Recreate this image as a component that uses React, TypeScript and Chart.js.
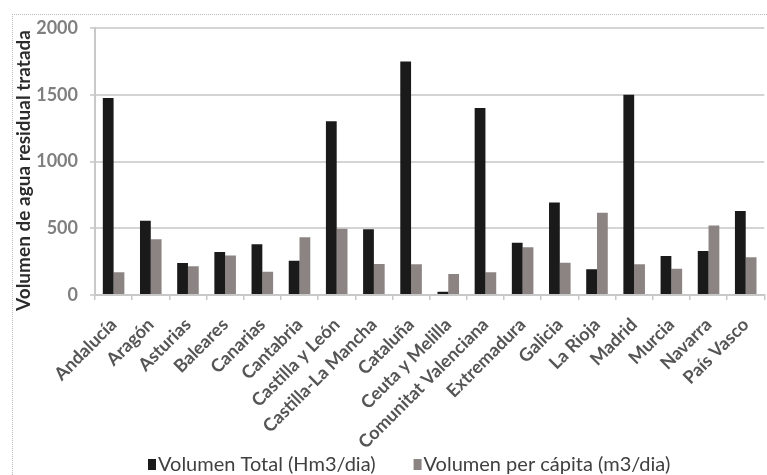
import React, { useEffect, useRef } from "react";
import { Chart, registerables } from "chart.js";

Chart.register(...registerables);

const categories = [
  "Andalucía",
  "Aragón",
  "Asturias",
  "Baleares",
  "Canarias",
  "Cantabria",
  "Castilla y León",
  "Castilla-La Mancha",
  "Cataluña",
  "Ceuta y Melilla",
  "Comunitat Valenciana",
  "Extremadura",
  "Galicia",
  "La Rioja",
  "Madrid",
  "Murcia",
  "Navarra",
  "País Vasco",
];
const volumenTotal = [1475, 557, 240, 322, 380, 257, 1302, 493, 1750, 25, 1400, 392, 692, 193, 1500, 292, 330, 630];
const volumenPerCapita = [170, 417, 215, 295, 175, 433, 497, 232, 230, 157, 170, 358, 242, 617, 230, 197, 520, 283];
const seriesNames = ["Volumen Total (Hm3/dia)", "Volumen per cápita (m3/dia)"];
const yTitle = "Volumen de agua residual tratada";
const yTicks = [0, 500, 1000, 1500, 2000];

const COLORS = ["#1a1a1a", "#8c8482"];
const FONT = "Lato, 'Open Sans', sans-serif";

const yTitlePlugin = {
  id: "yTitleCustom",
  afterDraw(chart: any) {
    const { ctx, chartArea } = chart;
    ctx.save();
    ctx.translate(24, (chartArea.top + chartArea.bottom) / 2 + 9);
    ctx.rotate(-Math.PI / 2);
    ctx.font = `bold 19px ${FONT}`;
    ctx.fillStyle = "#2b2b2b";
    ctx.textAlign = "center";
    ctx.textBaseline = "middle";
    ctx.fillText(yTitle, 0, 0);
    ctx.restore();
  },
};

const legendPlugin = {
  id: "legendCustom",
  afterDraw(chart: any) {
    const { ctx, chartArea } = chart;
    ctx.save();
    ctx.font = `20px ${FONT}`;
    ctx.textBaseline = "middle";
    ctx.textAlign = "left";
    let x = chartArea.left + 53;
    const y = chart.height - 10;
    chart.data.datasets.forEach((ds: any) => {
      ctx.fillStyle = ds.backgroundColor;
      ctx.fillRect(x, y - 6, 8, 11);
      x += 10;
      ctx.fillStyle = "#404040";
      ctx.fillText(ds.label, x, y);
      x += ctx.measureText(ds.label).width + 38;
    });
    ctx.restore();
  },
};

export default function App() {
  const ref = useRef<HTMLCanvasElement | null>(null);

  useEffect(() => {
    if (!ref.current) return;
    const chart = new Chart(ref.current, {
      type: "bar",
      data: {
        labels: categories,
        datasets: [
          {
            label: seriesNames[0],
            data: volumenTotal,
            backgroundColor: COLORS[0],
            categoryPercentage: 0.58,
            barPercentage: 1,
          },
          {
            label: seriesNames[1],
            data: volumenPerCapita,
            backgroundColor: COLORS[1],
            categoryPercentage: 0.58,
            barPercentage: 1,
          },
        ],
      },
      options: {
        responsive: false,
        animation: false,
        layout: { padding: { top: 28, left: 0, right: 0, bottom: 0 } },
        plugins: {
          legend: { display: false },
          tooltip: { enabled: false },
        },
        scales: {
          x: {
            afterFit(scale: any) {
              scale.height = 180;
            },
            grid: {
              drawOnChartArea: false,
              drawTicks: true,
              tickLength: 5,
              color: "#c8c8c8",
              lineWidth: 1.5,
              offset: true,
            },
            border: { color: "#c8c8c8", width: 2 },
            ticks: {
              autoSkip: false,
              minRotation: 45,
              maxRotation: 45,
              padding: 14,
              color: "#555555",
              font: { family: FONT, size: 18, weight: "bold" },
            },
          },
          y: {
            min: 0,
            max: 2000,
            afterFit(scale: any) {
              scale.width = 95;
            },
            afterBuildTicks(scale: any) {
              scale.ticks = yTicks.map((v) => ({ value: v }));
            },
            grid: {
              color: "#d4d4d4",
              lineWidth: 2,
              drawTicks: true,
              tickLength: 5,
            },
            border: { color: "#c8c8c8", width: 2 },
            ticks: {
              padding: 12,
              color: "#7f7f7f",
              font: { family: FONT, size: 18, weight: "bold" },
              callback: (v: any) => String(v),
            },
          },
        },
      },
      plugins: [yTitlePlugin, legendPlugin],
    });
    return () => chart.destroy();
  }, []);

  return (
    <div
      style={{
        position: "absolute",
        left: 0,
        top: 0,
        width: 767,
        height: 475,
        overflow: "hidden",
        background: "#ffffff",
      }}
    >
      <canvas ref={ref} width={775} height={475} style={{ width: 775, height: 475, display: "block" }} />
      <div
        style={{
          position: "absolute",
          left: 12,
          top: 14,
          width: 800,
          height: 500,
          borderTop: "1px dotted #bbbbbb",
          borderLeft: "1px dotted #bbbbbb",
          pointerEvents: "none",
        }}
      />
    </div>
  );
}
